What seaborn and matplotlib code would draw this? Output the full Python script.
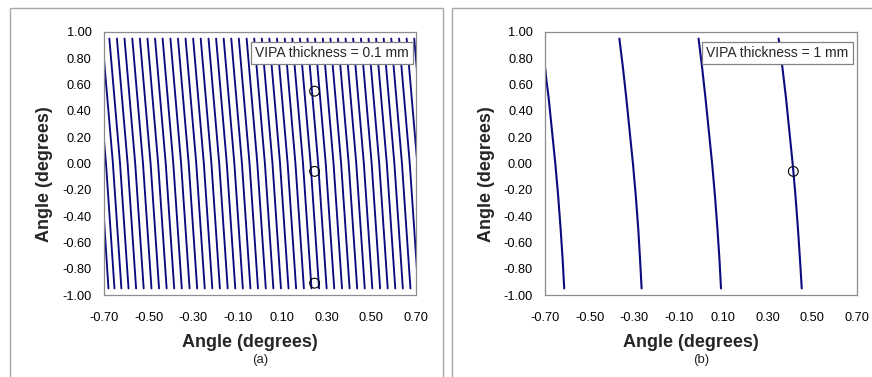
import matplotlib
matplotlib.use("Agg")
import matplotlib.pyplot as plt
from matplotlib.patches import Rectangle
import seaborn as sns
import pandas as pd

# ---------------- data ----------------
# Panel (a): VIPA thickness = 0.1 mm -- x position of each fringe line at three y levels
left_y_levels = [0.95, 0.0, -0.95]
left_top_x = [-0.764, -0.739, -0.708, -0.676, -0.642, -0.608, -0.573, -0.539, -0.505, -0.471,
              -0.437, -0.402, -0.368, -0.334, -0.300, -0.266, -0.231, -0.197, -0.163, -0.129,
              -0.095, -0.060, -0.026, 0.008, 0.042, 0.076, 0.111, 0.145, 0.179, 0.213,
              0.247, 0.282, 0.316, 0.350, 0.384, 0.418, 0.453, 0.487, 0.521, 0.555,
              0.589, 0.624, 0.658, 0.692]
left_mid_x = [-0.716, -0.691, -0.660, -0.628, -0.594, -0.560, -0.525, -0.491, -0.457, -0.423,
              -0.389, -0.354, -0.320, -0.286, -0.252, -0.218, -0.183, -0.149, -0.115, -0.081,
              -0.047, -0.012, 0.022, 0.056, 0.090, 0.124, 0.159, 0.193, 0.227, 0.261,
              0.295, 0.330, 0.364, 0.398, 0.432, 0.466, 0.501, 0.535, 0.569, 0.603,
              0.637, 0.672, 0.706, 0.740]
left_bot_x = [-0.680, -0.653, -0.622, -0.590, -0.556, -0.522, -0.487, -0.453, -0.419, -0.385,
              -0.351, -0.316, -0.282, -0.248, -0.214, -0.180, -0.145, -0.111, -0.077, -0.043,
              -0.009, 0.026, 0.060, 0.094, 0.128, 0.162, 0.197, 0.231, 0.265, 0.299,
              0.333, 0.368, 0.402, 0.436, 0.470, 0.504, 0.539, 0.573, 0.607, 0.641,
              0.675, 0.710, 0.744, 0.778]
left_circle_x = [0.245, 0.245, 0.245]
left_circle_y = [0.55, -0.06, -0.91]

# Panel (b): VIPA thickness = 1 mm
right_line1_x = [-0.701, -0.694, -0.685, -0.670, -0.655, -0.642, -0.631, -0.622, -0.615]
right_line1_y = [0.73, 0.62, 0.50, 0.25, 0.0, -0.25, -0.50, -0.73, -0.95]
right_y_levels = [0.95, 0.73, 0.50, 0.25, 0.0, -0.25, -0.50, -0.73, -0.95]
right_line2_x = [-0.367, -0.351, -0.336, -0.321, -0.306, -0.293, -0.282, -0.274, -0.267]
right_line3_x = [-0.011, 0.005, 0.020, 0.035, 0.050, 0.063, 0.074, 0.083, 0.090]
right_line4_x = [0.349, 0.366, 0.382, 0.397, 0.412, 0.425, 0.436, 0.445, 0.453]
right_circle_x = [0.415]
right_circle_y = [-0.06]

x_ticks = [-0.70, -0.50, -0.30, -0.10, 0.10, 0.30, 0.50, 0.70]
y_ticks = [-1.00, -0.80, -0.60, -0.40, -0.20, 0.00, 0.20, 0.40, 0.60, 0.80, 1.00]
panel_labels = ["(a)", "(b)"]
notes = ["VIPA thickness = 0.1 mm", "VIPA thickness = 1 mm"]
axis_label = "Angle (degrees)"

# ---------------- build tables ----------------
rows = []
for i, (xt, xm, xb) in enumerate(zip(left_top_x, left_mid_x, left_bot_x)):
    for x, y in zip([xt, xm, xb], left_y_levels):
        rows.append({"line": i, "x": x, "y": y})
df_left = pd.DataFrame(rows)

rows = []
for x, y in zip(right_line1_x, right_line1_y):
    rows.append({"line": 1, "x": x, "y": y})
for k, xs in enumerate([right_line2_x, right_line3_x, right_line4_x], start=2):
    for x, y in zip(xs, right_y_levels):
        rows.append({"line": k, "x": x, "y": y})
df_right = pd.DataFrame(rows)

# ---------------- style ----------------
sns.set_style("white")
plt.rcParams["font.family"] = ["Liberation Sans", "DejaVu Sans"]

navy = "#0b0b80"
W, H = 872, 377
fig = plt.figure(figsize=(W / 100, H / 100), dpi=100)
fig.patch.set_facecolor("white")

axL = fig.add_axes([104 / W, 82 / H, 312 / W, 263 / H])
axR = fig.add_axes([545.3 / W, 82 / H, 311.4 / W, 263 / H])

sns.lineplot(data=df_left, x="x", y="y", units="line", estimator=None, sort=False,
             color=navy, lw=1.35, ax=axL, legend=False)
sns.lineplot(data=df_right, x="x", y="y", units="line", estimator=None, sort=False,
             color=navy, lw=1.5, ax=axR, legend=False)

sns.scatterplot(x=left_circle_x, y=left_circle_y, marker="o", s=50, facecolors="none",
                edgecolors="black", linewidths=0.8, ax=axL, zorder=5)
sns.scatterplot(x=right_circle_x, y=right_circle_y, marker="o", s=50, facecolors="none",
                edgecolors="black", linewidths=0.8, ax=axR, zorder=5)

for ax, lab, note, note_x in zip([axL, axR], panel_labels, notes, [0.977, 0.974]):
    ax.set_xlim(-0.70, 0.70)
    ax.set_ylim(-1.0, 1.0)
    ax.set_xticks(x_ticks)
    ax.set_xticklabels([f"{v:.2f}" for v in x_ticks])
    ax.set_yticks(y_ticks)
    ax.set_yticklabels([f"{v:.2f}" for v in y_ticks])
    ax.tick_params(axis="both", direction="out", length=4, width=0.8, color="#808080",
                   labelsize=9.2, labelcolor="black")
    ax.tick_params(axis="x", pad=8)
    ax.tick_params(axis="y", pad=5)
    for sp in ax.spines.values():
        sp.set_visible(True)
        sp.set_color("#8c8c8c")
        sp.set_linewidth(0.9)
    ax.set_xlabel(axis_label, fontsize=13, fontweight="bold")
    ax.set_ylabel(axis_label, fontsize=13, fontweight="bold")
    ax.xaxis.set_label_coords(0.468, -0.179)
    ax.xaxis.label.set_va("center")
    ax.yaxis.set_label_coords(-0.19, 0.458)
    ax.yaxis.label.set_va("center")
    ax.text(0.5, -0.247, lab, transform=ax.transAxes, ha="center", va="center", fontsize=9.5)
    ax.text(note_x, 0.946, note, transform=ax.transAxes, ha="right", va="top", fontsize=10,
            zorder=6,
            bbox=dict(boxstyle="square,pad=0.3", fc="white", ec="#808080", lw=0.9))

# panel frames
fig.add_artist(Rectangle((10 / W, -0.1), 433 / W, 1.1 - 8.3 / H, transform=fig.transFigure,
                         fill=False, ec="#a8a8a8", lw=1.0))
fig.add_artist(Rectangle((452 / W, -0.1), 0.6, 1.1 - 7.5 / H, transform=fig.transFigure,
                         fill=False, ec="#a8a8a8", lw=1.0))

fig.savefig("out.png", dpi=100, facecolor="white")
